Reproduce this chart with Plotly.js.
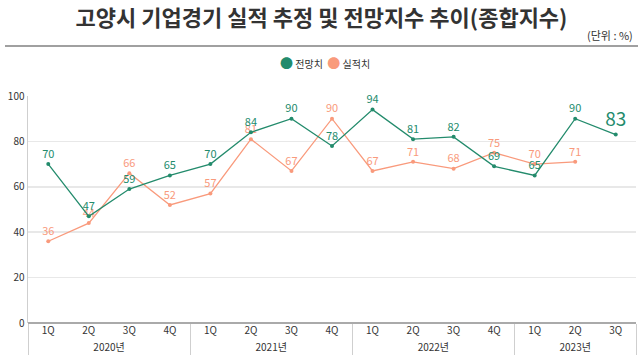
<!DOCTYPE html>
<html><head><meta charset="utf-8">
<script src="https://cdn.plot.ly/plotly-3.0.1.min.js"></script>
<style>html,body{margin:0;padding:0;background:#fff}#c{width:643px;height:358px}</style>
</head><body><div id="c"></div>
<script>
const years = ["2020년","2020년","2020년","2020년","2021년","2021년","2021년","2021년","2022년","2022년","2022년","2022년","2023년","2023년","2023년"];
const quarters = ["1Q","2Q","3Q","4Q","1Q","2Q","3Q","4Q","1Q","2Q","3Q","4Q","1Q","2Q","3Q"];
const forecast = [70,47,59,65,70,84,90,78,94,81,82,69,65,90,83];
const actual = [36,44,66,52,57,81,67,90,67,71,68,75,70,71,null];
const yTicks = [0,20,40,60,80,100];
const seriesNames = ["전망치","실적치"];

const green = "#238b6c", orange = "#f99a7c";
const font = "Noto Sans CJK KR, Noto Sans, sans-serif";
const M = {l:28, r:7, t:96, b:35};
const H = 358, W = 643;
const ph = H - M.t - M.b, pw = W - M.l - M.r;
const py = px => (H - M.b - px) / ph;
const pxx = px => (px - M.l) / pw;

const fSizes = forecast.map((v,i)=> i === forecast.length-1 ? 19 : 11);
const traces = [
  {x:[years, quarters], y:actual, type:"scatter", mode:"lines+markers+text", name:seriesNames[1],
   line:{color:orange, width:1.3}, marker:{color:orange, size:4},
   text:actual.map(v=>v==null?"":String(v)), textposition:"top center",
   textfont:{color:orange, size:11, family:font}, showlegend:false, cliponaxis:false},
  {x:[years, quarters], y:forecast, type:"scatter", mode:"lines+markers+text", name:seriesNames[0],
   line:{color:green, width:1.3}, marker:{color:green, size:4},
   text:forecast.map(String), textposition:"top center",
   textfont:{color:green, size:fSizes, family:font}, showlegend:false, cliponaxis:false}
];

const legendText = `<span style="color:${green};font-size:13px">●</span> ${seriesNames[0]}  <span style="color:${orange};font-size:13px">●</span> ${seriesNames[1]}`;

const layout = {
  width:W, height:H, margin:M, paper_bgcolor:"#fff", plot_bgcolor:"#fff",
  font:{family:font, color:"#333"},
  title:{text:"<b>고양시 기업경기 실적 추정 및 전망지수 추이(종합지수)</b>", x:0.5, xanchor:"center", y:1-18/H, yanchor:"middle",
         font:{size:22, color:"#333", family:font}},
  showlegend:false,
  xaxis:{type:"multicategory", range:[-0.5,14.5], showgrid:false, zeroline:false, showline:false,
         tickfont:{size:10, color:"#333"}, showdividers:true, dividercolor:"#cfcfcf", dividerwidth:1, automargin:false, ticks:""},
  yaxis:{range:[0,100], tickvals:yTicks, ticktext:yTicks.map(String), gridcolor:"#e8e8e8", gridwidth:1.5,
         zeroline:true, zerolinecolor:"#aaa", zerolinewidth:1.5, showline:true, linecolor:"#cfcfcf", linewidth:1.5,
         tickfont:{size:10, color:"#333"}, automargin:false, ticks:""},
  shapes:[{type:"line", xref:"paper", yref:"paper", x0:pxx(5), x1:pxx(638), y0:py(46), y1:py(46), line:{color:"#a0a0a0", width:2}}],
  annotations:[
    {text:"(단위 : %)", xref:"paper", yref:"paper", x:pxx(635), xanchor:"right", y:py(35), yanchor:"middle", showarrow:false,
     font:{size:11, color:"#333"}},
    {text:legendText, xref:"paper", yref:"paper", x:pxx(325), xanchor:"center", y:py(63), yanchor:"middle", showarrow:false,
     font:{size:10, color:"#333"}}
  ]
};
Plotly.newPlot("c", traces, layout, {displayModeBar:false, staticPlot:true});
</script></body></html>
